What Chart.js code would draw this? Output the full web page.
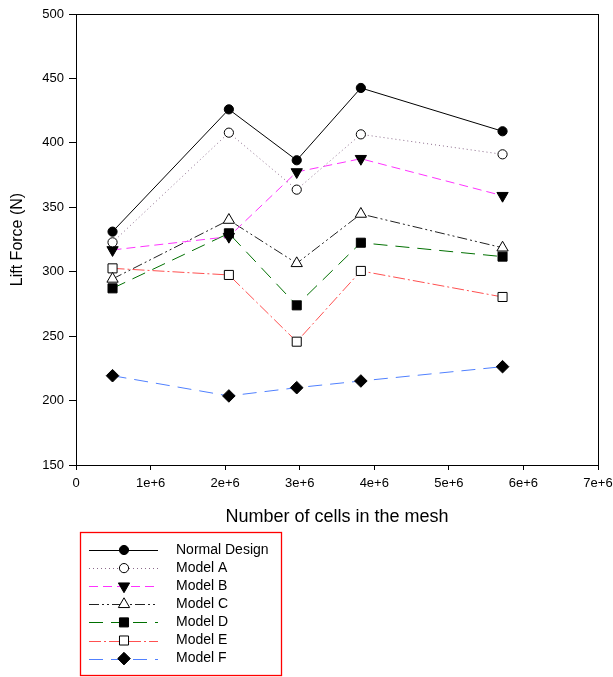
<!DOCTYPE html>
<html>
<head>
<meta charset="utf-8">
<script src="https://cdn.jsdelivr.net/npm/chart.js@4.4.1/dist/chart.umd.min.js"></script>
<style>
html,body{margin:0;padding:0;background:#fff;}
#wrap{width:613px;height:677px;position:relative;}
</style>
</head>
<body>
<div id="wrap"><canvas id="c" width="613" height="677"></canvas></div>
<script>
// ---- data ----
const cells = [0.49e6, 2.05e6, 2.96e6, 3.82e6, 5.72e6];
const seriesNames = ["Normal Design","Model A","Model B","Model C","Model D","Model E","Model F"];
const normalDesign = [331.1, 426.0, 386.5, 442.6, 409.0];
const modelA = [322.8, 407.9, 363.7, 406.6, 391.1];
const modelB = [316.9, 327.2, 377.4, 387.7, 359.0];
const modelC = [294.4, 340.1, 306.5, 344.8, 318.6];
const modelD = [287.1, 329.8, 273.9, 322.5, 311.7];
const modelE = [302.6, 297.5, 245.7, 300.6, 280.4];
const modelF = [219.3, 203.6, 210.0, 215.2, 226.3];
const yTicks = [150, 200, 250, 300, 350, 400, 450, 500];
const xTicks = [0, 1e6, 2e6, 3e6, 4e6, 5e6, 6e6, 7e6];

const FONT = "'Liberation Sans', Arial, sans-serif";

function pts(vals){ return vals.map((v,i)=>({x:cells[i], y:v})); }

const styles = [
  {color:'#000000', dash:[], pointStyle:'circle', radius:4.6, fill:'#000000', rot:0},
  {color:'#8a6a8a', dash:[1,3], pointStyle:'circle', radius:4.6, fill:'#ffffff', rot:0},
  {color:'#ff33ff', dash:[9,5], pointStyle:'triangle', radius:6.5, fill:'#000000', rot:180},
  {color:'#222222', dash:[10,3,2,3,2,3], pointStyle:'triangle', radius:6.5, fill:'#ffffff', rot:0},
  {color:'#007000', dash:[14,8], pointStyle:'rect', radius:6.4, fill:'#000000', rot:0},
  {color:'#ff5050', dash:[12,3,2,3], pointStyle:'rect', radius:6.4, fill:'#ffffff', rot:0},
  {color:'#5080ff', dash:[14,8], pointStyle:'rectRot', radius:6.3, fill:'#000000', rot:0}
];
const values = [normalDesign, modelA, modelB, modelC, modelD, modelE, modelF];

const datasets = values.map((vals,i)=>({
  label: seriesNames[i],
  data: pts(vals),
  borderColor: styles[i].color,
  borderWidth: 1,
  borderDash: styles[i].dash,
  tension: 0,
  fill: false,
  pointStyle: styles[i].pointStyle,
  pointRadius: styles[i].radius,
  pointHoverRadius: styles[i].radius,
  pointRotation: styles[i].rot,
  pointBackgroundColor: styles[i].fill,
  pointBorderColor: '#000000',
  pointBorderWidth: 1
}));

const framePlugin = {
  id: 'frame',
  afterDraw(chart){
    const {ctx, chartArea:a} = chart;
    ctx.save();
    ctx.strokeStyle = '#000';
    ctx.lineWidth = 1;
    ctx.setLineDash([]);
    ctx.strokeRect(Math.round(a.left)+0.5, Math.round(a.top)+0.5, Math.round(a.right-a.left), Math.round(a.bottom-a.top));
    ctx.restore();

    // legend box
    ctx.save();
    const bx = 80.5, by = 532.5, bw = 201, bh = 143;
    ctx.strokeStyle = '#ff0000';
    ctx.lineWidth = 1.3;
    ctx.strokeRect(bx, by, bw, bh);
    chart.data.datasets.forEach((ds, i) => {
      const y = 550 + i*18.1;
      ctx.save();
      ctx.strokeStyle = ds.borderColor;
      ctx.lineWidth = 1;
      ctx.setLineDash(ds.borderDash);
      ctx.beginPath();
      ctx.moveTo(89, Math.round(y)+0.5);
      ctx.lineTo(158, Math.round(y)+0.5);
      ctx.stroke();
      ctx.setLineDash([]);
      ctx.fillStyle = ds.pointBackgroundColor;
      ctx.strokeStyle = ds.pointBorderColor;
      ctx.lineWidth = 1;
      Chart.helpers.drawPoint(ctx, {pointStyle: ds.pointStyle, radius: ds.pointRadius, rotation: ds.pointRotation, borderWidth: 1}, 124, y);
      ctx.restore();
      ctx.fillStyle = '#000';
      ctx.font = '14px ' + FONT;
      ctx.textBaseline = 'middle';
      ctx.textAlign = 'left';
      ctx.fillText(ds.label, 176, y);
    });
    ctx.restore();
  }
};

new Chart(document.getElementById('c'), {
  type: 'line',
  data: { datasets },
  options: {
    responsive: false,
    animation: false,
    devicePixelRatio: 1,
    layout: { padding: { left: 0, right: 15, top: 14, bottom: 147 } },
    plugins: { legend: { display: false }, tooltip: { enabled: false } },
    scales: {
      x: {
        type: 'linear',
        min: 0, max: 7e6,
        afterBuildTicks: s => { s.ticks = xTicks.map(v=>({value:v})); },
        afterFit: s => { s.height = 65; s.paddingRight = 0; s.paddingLeft = 0; },
        ticks: {
          color: '#000',
          font: { family: FONT, size: 13 },
          padding: 6,
          maxRotation: 0,
          callback: v => v === 0 ? '0' : (v/1e6) + 'e+6'
        },
        grid: { display: true, drawOnChartArea: false, drawTicks: true, tickLength: 5, color: '#000' },
        border: { display: false },
        title: { display: true, text: 'Number of cells in the mesh', color: '#000', font: { family: FONT, size: 18 }, padding: { top: 4, bottom: 2 } }
      },
      y: {
        type: 'linear',
        min: 150, max: 500,
        afterBuildTicks: s => { s.ticks = yTicks.map(v=>({value:v})); },
        afterFit: s => { s.width = 76; s.paddingTop = 0; s.paddingBottom = 0; },
        ticks: {
          color: '#000',
          font: { family: FONT, size: 13 },
          padding: 5
        },
        grid: { display: true, drawOnChartArea: false, drawTicks: true, tickLength: 7, color: '#000' },
        border: { display: false },
        title: { display: true, text: 'Lift Force (N)', color: '#000', font: { family: FONT, size: 16 }, padding: { top: 8, bottom: 0 } }
      }
    }
  },
  plugins: [framePlugin]
});
</script>
</body>
</html>
